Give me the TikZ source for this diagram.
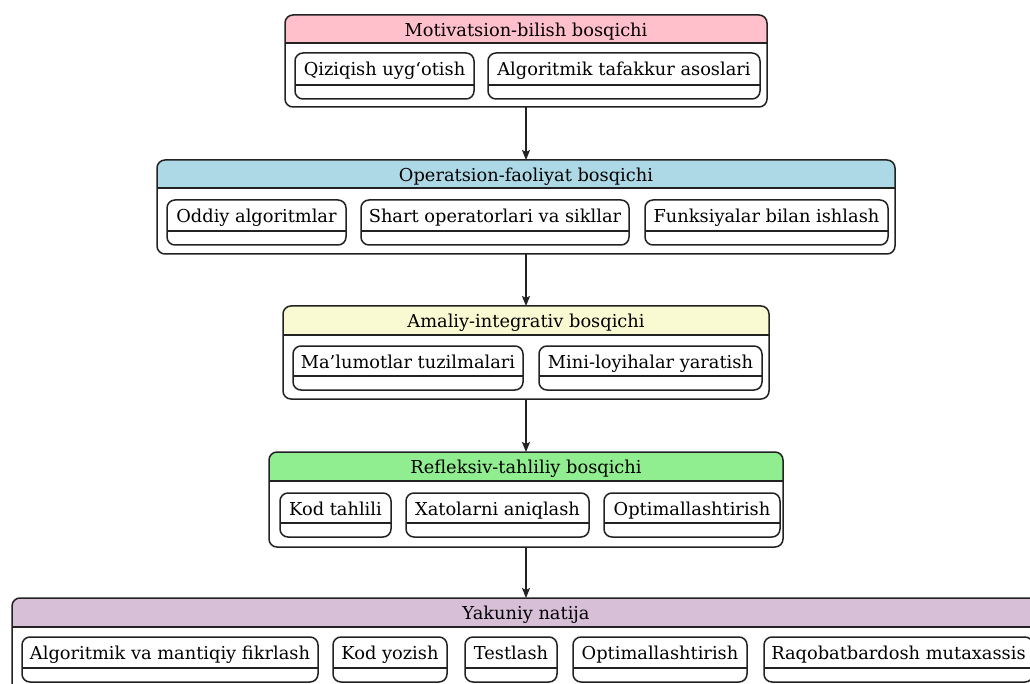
\documentclass[tikz,border=0pt]{standalone}
\usepackage{fontspec}
\setmainfont{DejaVu Serif}
\usetikzlibrary{arrows.meta}
\definecolor{hpink}{HTML}{FFC0CB}
\definecolor{hblue}{HTML}{ADD8E6}
\definecolor{hyellow}{HTML}{FAFAD2}
\definecolor{hgreen}{HTML}{90EE90}
\definecolor{hthistle}{HTML}{D8BFD8}
\definecolor{lc}{HTML}{222222}
\tikzset{
  outerbox/.style={draw=lc, line width=1.5pt, rounded corners=8pt, inner sep=0pt, outer sep=0pt},
  innerbox/.style={draw=lc, line width=1.5pt, rounded corners=8pt, inner sep=0pt, outer sep=0pt},
  divline/.style={draw=lc, line width=1.5pt},
  txt/.style={inner sep=0pt, anchor=base, font=\fontsize{17.8}{20}\selectfont, text=black},
  arr/.style={draw=lc, line width=1.5pt, -{Stealth[length=10pt,width=8pt,inset=2pt]}}
}
% name x1 x2 y1 ydiv y2 text
\newcommand{\ibox}[7]{%
  \node[innerbox, minimum width={#3-#2}, minimum height={#6-#4}] (#1) at ({(#2+#3)/2},{(#4+#6)/2}) {};
  \draw[divline] (#2,#5) -- (#3,#5);
  \node[txt] (#1t) at ({(#2+#3)/2},{#4+22.5}) {#7};
}
% name x1 x2 y1 yhead y2 color text
\newcommand{\obox}[8]{%
  \begin{scope}
    \clip (#2-2,#4-2) rectangle (#3+2,#5);
    \fill[#7, rounded corners=8pt] (#2,#4) rectangle (#3,#6);
  \end{scope}
  \node[outerbox, minimum width={#3-#2}, minimum height={#6-#4}] (#1) at ({(#2+#3)/2},{(#4+#6)/2}) {};
  \draw[divline] (#2,#5) -- (#3,#5);
  \node[txt] (#1h) at ({(#2+#3)/2},{#4+21.7}) {#8};
}
\begin{document}
\begin{tikzpicture}[x=1pt,y=-1pt]
\clip (0,0) rectangle (1030,684);
\fill[white] (0,0) rectangle (1030,684);

\obox{b1}{285}{767}{15}{43}{107}{hpink}{Motivatsion-bilish bosqichi}
\ibox{b1a}{295}{474}{53}{85}{99}{Qiziqish uyg‘otish}
\ibox{b1b}{488}{760}{53}{85}{99}{Algoritmik tafakkur asoslari}

\obox{b2}{157}{895}{160}{188}{254}{hblue}{Operatsion-faoliyat bosqichi}
\ibox{b2a}{167}{346}{200}{231}{245}{Oddiy algoritmlar}
\ibox{b2b}{361}{629}{200}{231}{245}{Shart operatorlari va sikllar}
\ibox{b2c}{645}{888}{200}{231}{245}{Funksiyalar bilan ishlash}

\obox{b3}{283}{769}{306}{335}{399}{hyellow}{Amaliy-integrativ bosqichi}
\ibox{b3a}{293}{523}{346}{376}{390}{Ma’lumotlar tuzilmalari}
\ibox{b3b}{539}{762}{346}{376}{390}{Mini-loyihalar yaratish}

\obox{b4}{269}{783}{452}{481}{547}{hgreen}{Refleksiv-tahliliy bosqichi}
\ibox{b4a}{280}{391}{493}{523}{537}{Kod tahlili}
\ibox{b4b}{406}{589}{493}{523}{537}{Xatolarni aniqlash}
\ibox{b4c}{604}{780}{493}{523}{537}{Optimallashtirish}

\obox{b5}{12}{1040}{598}{627}{692}{hthistle}{Yakuniy natija}
\ibox{b5a}{22}{318}{637}{668}{682}{Algoritmik va mantiqiy fikrlash}
\ibox{b5b}{333}{447}{637}{668}{682}{Kod yozish}
\ibox{b5c}{465}{557}{637}{668}{682}{Testlash}
\ibox{b5d}{573}{747}{637}{668}{682}{Optimallashtirish}
\ibox{b5e}{764}{1033}{637}{668}{682}{Raqobatbardosh mutaxassis}

\draw[arr] (b1) -- (b2);
\draw[arr] (b2) -- (b3);
\draw[arr] (b3) -- (b4);
\draw[arr] (b4) -- (b5);
\end{tikzpicture}
\end{document}
